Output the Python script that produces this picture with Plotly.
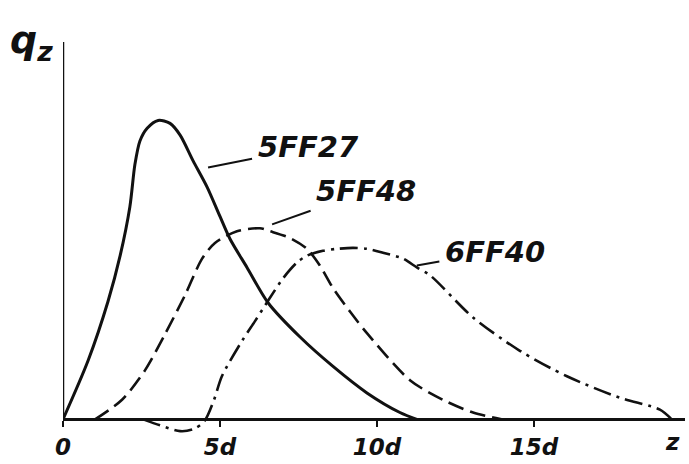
import plotly.graph_objects as go

# distance along z in units of d, q_z in arbitrary units
z_5ff27 = [0, 0.80, 1.43, 1.82, 2.13, 2.29, 2.45, 2.68, 3.03, 3.41, 3.73, 4.14, 4.59, 5.00, 5.32, 5.86, 6.53, 7.55, 8.60, 9.68, 10.73, 11.27]
q_5ff27 = [0, 0.60, 1.20, 1.67, 2.17, 2.60, 2.84, 2.97, 3.05, 3.02, 2.90, 2.64, 2.37, 2.07, 1.84, 1.55, 1.19, 0.84, 0.54, 0.27, 0.07, 0]

z_5ff48 = [1.02, 1.88, 2.61, 3.25, 3.89, 4.43, 4.84, 5.54, 6.27, 6.59, 7.23, 7.77, 8.18, 8.60, 9.14, 9.68, 11.05, 12.10, 13.06, 14.0]
q_5ff48 = [0, 0.20, 0.50, 0.87, 1.27, 1.64, 1.80, 1.92, 1.95, 1.92, 1.85, 1.74, 1.57, 1.34, 1.10, 0.88, 0.40, 0.20, 0.07, 0]

z_6ff40 = [2.55, 3.09, 3.73, 4.15, 4.50, 4.81, 5.06, 5.70, 6.11, 6.55, 7.01, 7.45, 7.77, 8.28, 8.73, 9.24, 9.68, 10.19, 10.83, 11.27, 11.69, 13.06, 14.55, 16.05, 17.74, 19.01, 19.39]
q_6ff40 = [0, -0.06, -0.12, -0.10, -0.02, 0.20, 0.44, 0.80, 1.00, 1.22, 1.44, 1.60, 1.67, 1.72, 1.74, 1.75, 1.74, 1.70, 1.64, 1.55, 1.47, 1.04, 0.70, 0.44, 0.22, 0.10, 0]

tick_vals = [0, 5, 10, 15]
tick_text = ["0", "5d", "10d", "15d"]

series_names = ["5FF27", "5FF48", "6FF40"]
label_anchor_z = [4.62, 6.66, 11.27]
label_anchor_q = [2.57, 1.99, 1.57]

INK = "#111111"
FONT = "DejaVu Sans"

fig = go.Figure()
fig.add_trace(go.Scatter(x=z_5ff27, y=q_5ff27, mode="lines", name=series_names[0],
                         line=dict(color=INK, width=3, shape="spline", smoothing=0.8)))
fig.add_trace(go.Scatter(x=z_5ff48, y=q_5ff48, mode="lines", name=series_names[1],
                         line=dict(color=INK, width=2.6, dash="16px,7px", shape="spline", smoothing=0.8)))
fig.add_trace(go.Scatter(x=z_6ff40, y=q_6ff40, mode="lines", name=series_names[2],
                         line=dict(color=INK, width=2.6, dash="18px,6px,3px,6px", shape="spline", smoothing=0.8)))

label_offsets = [(100, -20), (94, -33), (78, -14)]
for name, zx, qy, (ax, ay) in zip(series_names, label_anchor_z, label_anchor_q, label_offsets):
    fig.add_annotation(x=zx, y=qy, text=name, showarrow=True, arrowhead=0, arrowwidth=2,
                       arrowcolor=INK, ax=ax, ay=ay, borderpad=5,
                       font=dict(family=FONT, size=29, color=INK, style="italic", weight="bold"))

y_top = 3.85
# y axis line from the origin upward
fig.add_shape(type="line", xref="x", yref="y", x0=0, x1=0, y0=0, y1=y_top,
              line=dict(color=INK, width=2.5))

# axis titles
fig.add_annotation(xref="paper", yref="paper", x=-0.05, y=1.0, xanchor="center", yanchor="middle",
                   text="q<sub>z</sub>", showarrow=False,
                   font=dict(family=FONT, size=38, color=INK, style="italic", weight="bold"))
fig.add_annotation(xref="x", yref="y", x=19.4, y=0, yanchor="top", yshift=-8, xanchor="center",
                   text="z", showarrow=False,
                   font=dict(family=FONT, size=23, color=INK, style="italic", weight="bold"))

y_min = -0.2
fig.update_layout(
    width=689, height=464,
    margin=dict(l=63, r=4, t=42, b=17),
    paper_bgcolor="white", plot_bgcolor="white",
    showlegend=False,
    xaxis=dict(range=[0, 19.81], showgrid=False, zeroline=False, showline=True, linecolor=INK,
               linewidth=2.5, anchor="free", position=(0 - y_min) / (y_top - y_min),
               tickvals=tick_vals, ticktext=tick_text, ticks="outside", ticklen=6, tickwidth=2,
               tickcolor=INK,
               tickfont=dict(family=FONT, size=23, color=INK, style="italic", weight="bold")),
    yaxis=dict(range=[y_min, y_top], showgrid=False, zeroline=False, showline=False,
               showticklabels=False, ticks=""),
)

fig.write_html("out.html", config={"displayModeBar": False},
               post_script="document.body.style.margin='0';")
